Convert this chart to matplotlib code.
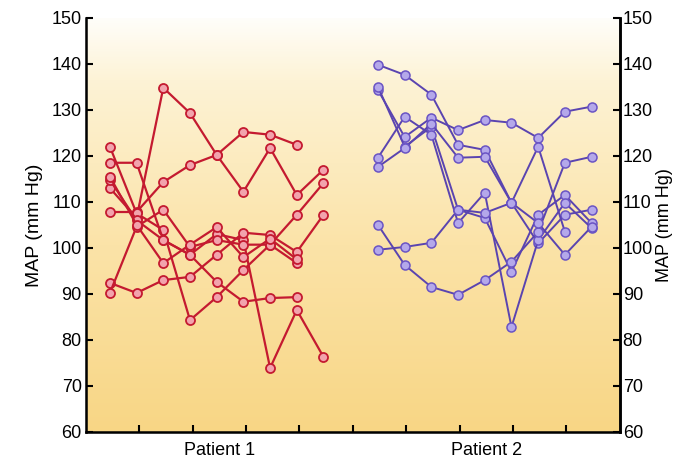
import numpy as np
import matplotlib.pyplot as plt
from matplotlib.colors import LinearSegmentedColormap

nan = np.nan

# x positions of the readings (one row of 9 per patient)
p1_x = [0.45, 0.95, 1.45, 1.95, 2.45, 2.95, 3.45, 3.95, 4.45]
p2_x = [5.47, 5.97, 6.47, 6.97, 7.47, 7.97, 8.47, 8.97, 9.47]

# MAP readings, Patient 1 (red)
p1_r1 = [113.0, 106.5, 134.8, 129.3, 120.2, 112.2, 121.7, 111.5, 117.0]
p1_r2 = [107.8, 107.8, 114.3, 118.0, 120.2, 125.2, 124.6, 122.4, nan]
p1_r3 = [122.0, 107.5, 103.9, 84.3, 89.3, 95.2, 100.7, 107.2, 114.1]
p1_r4 = [118.5, 118.5, 101.7, 98.5, 103.0, 101.7, 73.9, 86.5, 76.3]
p1_r5 = [92.4, 90.2, 93.0, 93.7, 98.5, 103.3, 102.8, 99.1, 107.2]
p1_r6 = [90.2, 104.6, 108.3, 100.2, 101.7, 100.7, 100.7, 96.7, nan]
p1_r7 = [114.8, 106.0, 101.7, 98.5, 92.6, 88.3, 89.1, 89.3, nan]
p1_r8 = [115.5, 105.0, 96.7, 100.7, 104.5, 98.0, 102.0, 97.5, nan]

# MAP readings, Patient 2 (purple)
p2_r1 = [139.8, 137.6, 133.3, 122.4, 121.3, 109.8, 101.0, 107.2, 108.3]
p2_r2 = [134.3, 124.1, 128.3, 125.6, 127.8, 127.2, 123.9, 129.6, 130.7]
p2_r3 = [135.0, 122.0, 126.3, 108.3, 106.5, 94.8, 107.2, 111.5, 105.4]
p2_r4 = [119.6, 128.5, 124.6, 105.4, 112.0, 82.8, 101.7, 109.8, 104.3]
p2_r5 = [117.6, 121.7, 127.0, 119.6, 119.8, 109.8, 122.0, 103.5, nan]
p2_r6 = [105.0, 96.3, 91.5, 89.8, 93.0, 97.0, 103.5, 118.5, 119.8]
p2_r7 = [99.6, 100.2, 101.1, 108.3, 107.6, 109.8, 105.4, 98.5, 104.6]

patient1 = [p1_r1, p1_r2, p1_r3, p1_r4, p1_r5, p1_r6, p1_r7, p1_r8]
patient2 = [p2_r1, p2_r2, p2_r3, p2_r4, p2_r5, p2_r6, p2_r7]

yticks = list(range(60, 151, 10))
group_labels = ["Patient 1", "Patient 2"]

plt.rcParams['font.family'] = ['Liberation Sans', 'DejaVu Sans']

fig = plt.figure(figsize=(6.76, 4.69), dpi=100)
ax = fig.add_axes([0.127, 0.079, 0.79, 0.883])

# soft white -> golden vertical background
cmap = LinearSegmentedColormap.from_list(
    "bg", [(0.0, "#f8d685"), (0.45, "#fbe3a8"), (0.85, "#fdf3d6"), (1.0, "#fffefa")])
grad = np.linspace(0, 1, 256).reshape(-1, 1)
ax.imshow(grad, cmap=cmap, aspect="auto", extent=[0, 10, 60, 150],
          origin="lower", zorder=0)

for ys in patient1:
    ax.plot(p1_x, ys, color="#c41a30", lw=1.6, marker="o", ms=6.5,
            mfc="#f2a3ad", mec="#c41a30", mew=1.3, zorder=3)
for ys in patient2:
    ax.plot(p2_x, ys, color="#5a44b0", lw=1.4, marker="o", ms=6.5,
            mfc="#b4a8ea", mec="#6a54c4", mew=1.1, zorder=3)

ax.set_xlim(0, 10)
ax.set_ylim(60, 150)
ax.set_yticks(yticks)
ax.set_xticks(range(1, 10))
ax.set_xticklabels([])
ax.set_xticks([2.5, 7.5], minor=True)
ax.set_xticklabels(group_labels, minor=True, fontsize=13)
ax.tick_params(axis="x", which="minor", length=0, pad=7)
ax.tick_params(axis="x", which="major", direction="in", length=5, width=1.5)
ax.tick_params(axis="y", direction="in", length=5, width=1.5, labelsize=13, pad=3)
ax.set_ylabel("MAP (mm Hg)", fontsize=14, labelpad=6)

ax.spines["top"].set_visible(False)
for side in ["left", "right", "bottom"]:
    ax.spines[side].set_linewidth(1.8)

ax2 = ax.twinx()
ax2.set_ylim(60, 150)
ax2.set_yticks(yticks)
ax2.tick_params(axis="y", direction="in", length=5, width=1.5, labelsize=13, pad=2)
ax2.set_ylabel("MAP (mm Hg)", fontsize=13, labelpad=2)
ax2.spines["top"].set_visible(False)
ax2.spines["right"].set_linewidth(1.8)

fig.savefig("out.png", dpi=100)
